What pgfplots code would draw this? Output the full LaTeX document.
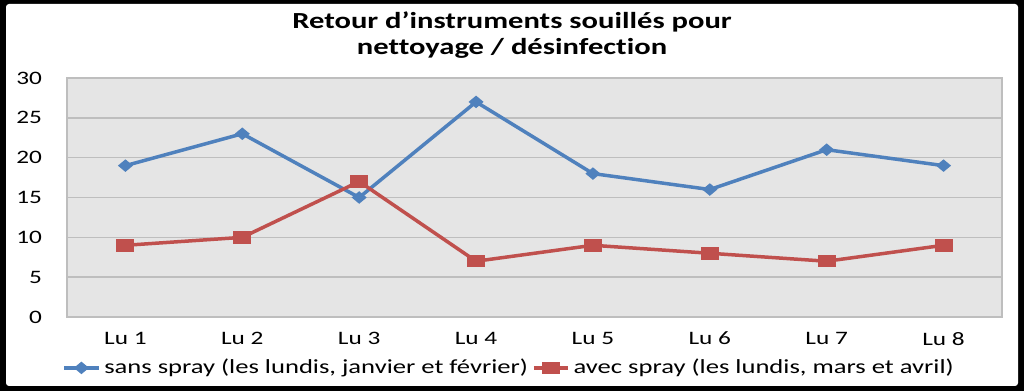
\documentclass[border=0pt]{standalone}
\usepackage{fontspec}
\setmainfont[FakeStretch=1.33, Ligatures=NoCommon]{Carlito}
\usepackage{pgfplots}
\pgfplotsset{compat=1.18}
\definecolor{cblue}{RGB}{79,129,189}
\definecolor{cred}{RGB}{192,80,77}
\definecolor{plotbg}{RGB}{229,229,229}
\definecolor{gridc}{RGB}{190,190,190}
\begin{document}
\begin{tikzpicture}
\fill[black] (0pt,0pt) rectangle (512pt,195.5pt);
\fill[white, rounded corners=1.5pt] (3pt,2.5pt) rectangle (509pt,193.5pt);
\useasboundingbox (0pt,0pt) rectangle (512pt,195.5pt);
\node[font=\bfseries\fontsize{11.5}{13}\selectfont, align=center] at (256pt,178pt) {Retour d’instruments souillés pour\\nettoyage / désinfection};
\begin{axis}[
  at={(33.5pt,37pt)}, anchor=south west,
  scale only axis, width=467.5pt, height=119.5pt,
  xmin=0.5, xmax=8.5, ymin=0, ymax=30,
  xtick={1,...,8},
  xticklabels={Lu 1,Lu 2,Lu 3,Lu 4,Lu 5,Lu 6,Lu 7,Lu 8},
  ytick={0,5,...,30},
  ymajorgrids,
  grid style={gridc, line width=0.8pt},
  axis background/.style={fill=plotbg},
  axis line style={gridc, line width=0.6pt},
  tick style={draw=none},
  ticklabel style={font=\fontsize{9.5}{11}\selectfont},
  /pgf/number format/assume math mode=true,
  yticklabel style={xshift=-9pt},
  xticklabel style={yshift=-4pt},
  legend style={at={(0.474,-0.213)}, anchor=center, draw=none, fill=none,
    font=\fontsize{10}{12}\selectfont, legend columns=2,
    /tikz/every even column/.append style={column sep=0pt},
    /tikz/every odd column/.append style={inner xsep=1pt}},
  legend cell align=left,
]
\addplot[cblue, line width=1.75pt, mark=diamond*, mark size=2pt, mark options={xscale=1.6, solid}]
  coordinates {(1,19)(2,23)(3,15)(4,27)(5,18)(6,16)(7,21)(8,19)};
\addlegendentry{sans spray (les lundis, janvier et février)}
\addplot[cred, line width=1.75pt, mark=square*, mark size=2.25pt, mark options={xscale=1.6, solid}]
  coordinates {(1,9)(2,10)(3,17)(4,7)(5,9)(6,8)(7,7)(8,9)};
\addlegendentry{avec spray (les lundis, mars et avril)}
\end{axis}
\end{tikzpicture}
\end{document}
